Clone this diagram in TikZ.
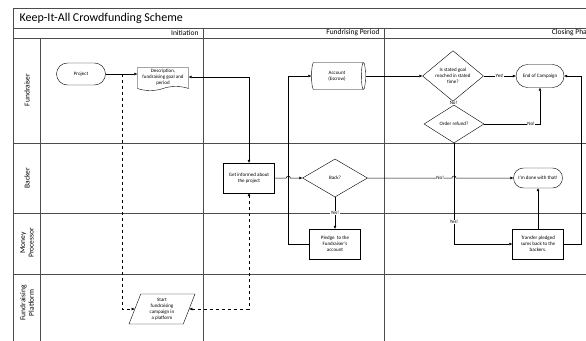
\documentclass[tikz,border=0pt]{standalone}
\usepackage{fontspec}
\setmainfont{Carlito}
\usetikzlibrary{shapes.geometric, shapes.misc, shapes.symbols, arrows.meta, calc}

\begin{document}
\begin{tikzpicture}[
    x=1pt, y=-1pt,
    font=\fontsize{5}{6}\selectfont,
    % Styles
    lane_line/.style={
        draw=black!70, line width=0.7pt
    },
    lane_label/.style={
        rotate=90, align=center, font=\fontsize{7.5}{8.5}\selectfont
    },
    phase_label/.style={
        anchor=east, font=\fontsize{7.5}{8}\selectfont
    },
    terminal_block/.style={
        draw, rounded rectangle, minimum width=51pt, minimum height=22pt, inner sep=1pt, align=center
    },
    process_block/.style={
        draw, rectangle, minimum width=51pt, minimum height=30pt, inner sep=1pt, align=center
    },
    decision_block/.style={
        draw, diamond, inner sep=0pt, align=center
    },
    flow/.style={
        ->, >={Triangle[length=3pt, width=2.6pt]}, line width=0.5pt
    },
    info_flow/.style={
        flow, dashed
    },
    answer/.style={
        fill=white, inner sep=0.5pt
    }
]

    % --- 1. POOL FRAME ---
    \useasboundingbox (0,0) rectangle (586,340);
    \clip (0,0) rectangle (586,340);
    \draw[lane_line] (13,8) rectangle (600,350);
    \draw[lane_line] (13,28) -- (600,28);
    \draw[lane_line] (13,38) -- (600,38);
    \draw[lane_line] (40,38) -- (40,350);
    \draw[lane_line] (203,28) -- (203,350);
    \draw[lane_line] (384,28) -- (384,350);
    \foreach \y in {143,213,274} \draw[lane_line] (13,\y) -- (600,\y);

    \node[anchor=west, font=\fontsize{12}{13}\selectfont] (title) at (16,18) {Keep-It-All Crowdfunding Scheme};

    % Phases
    \node[phase_label] (ph_init) at (202,33) {Initiation};
    \node[phase_label] (ph_fund) at (383,33) {Fundrising Period};
    \node[phase_label] (ph_close) at (597,33) {Closing Phase};

    % Lanes
    \node[lane_label] (ln_fundraiser) at (27,90) {Fundraiser};
    \node[lane_label] (ln_backer) at (27,178) {Backer};
    \node[lane_label] (ln_money) at (27,243) {Money\\Processor};
    \node[lane_label] (ln_platform) at (27,303) {Fundraising\\Platform};

    % --- 2. INITIATION ---
    \node[terminal_block] (project) at (81,74) {Project};
    \node[draw, tape, tape bend top=none, tape bend height=4pt, minimum width=51pt, minimum height=23pt,
          inner sep=1pt, align=center] (desc) at (163,77) {Description,\\fundraising goal and\\period};
    \node[draw, trapezium, trapezium left angle=62, trapezium right angle=118, trapezium stretches body,
          minimum width=66pt, minimum height=30pt, inner sep=0pt, align=center] (platform) at (162,309)
          {Start\\fundraising\\campaign in\\a platform};

    \draw[flow] (project.east) -- (project.east -| desc.west);
    \coordinate (split) at (122,74);
    \draw[info_flow] (split) |- (platform.west);

    % --- 3. FUNDRISING PERIOD ---
    \node[process_block] (getinf) at (249,178) {Get informed about\\the project};
    \node[draw, cylinder, shape border rotate=0, aspect=0.35, minimum width=27pt, minimum height=54pt,
          inner sep=1pt, align=center] (account) at (337,76) {Account\\(Escrow)};
    \node[decision_block, minimum width=65pt, minimum height=38pt] (back) at (335,178) {Back?};
    \node[process_block] (pledge) at (335,244) {Pledge \ to the\\Fundraiser's\\account};

    \draw[flow, <->] (desc.east) -| (getinf.north);
    \draw[info_flow, <->] (platform.east) -| (getinf.south);

    \coordinate (ret) at ($(pledge.west)+(-21,0)$);
    \draw[flow] (pledge.west) -- (ret) |- (account.west);
    \coordinate (hop_a) at (ret |- getinf.east);
    \draw[flow] (getinf.east) -- ($(hop_a)+(-2,0)$) arc[start angle=180, end angle=0, radius=2pt] -- (back.west);
    \draw[flow] (back.south) -- node[answer] {Yes!} (pledge.north);

    % --- 4. CLOSING PHASE ---
    \node[decision_block, minimum width=61pt, minimum height=42pt] (goal) at (453,76)
          {Is stated goal\\reached in stated\\time?};
    \node[terminal_block, minimum width=50pt, minimum height=23pt] (endc) at (540,76) {End of Campaign};
    \node[decision_block, minimum width=60pt, minimum height=38pt] (refund) at (454,124) {Order refund?};
    \node[terminal_block, minimum height=20pt] (done) at (538,178) {I'm done with that!};
    \node[process_block] (transfer) at (538,244) {Transfer pledged\\sums back to the\\backers.};

    \draw[flow] (account.east) -- (account.east -| goal.west);
    \draw[flow] (goal.east) -- node[answer] {Yes!} (goal.east -| endc.west);
    \draw (goal.south) -- node[answer] {No!} (refund.north);
    \draw[flow] (refund.east) -| node[answer, pos=0.42] {No!} (endc.south);
    \draw[flow] (refund.south) |- node[answer, pos=0.39] {Yes!} (transfer.west);

    \coordinate (hop_b) at (refund.south |- back.east);
    \draw[flow] (back.east) -- node[answer, pos=0.86] {No!} ($(hop_b)+(-2,0)$) arc[start angle=180, end angle=0, radius=2pt]
          -- (done.west);
    \draw[flow] (transfer.north) -- (done.south);
    \draw[flow] (transfer.east) -- ++(18,0) |- (endc.east);

\end{tikzpicture}
\end{document}
